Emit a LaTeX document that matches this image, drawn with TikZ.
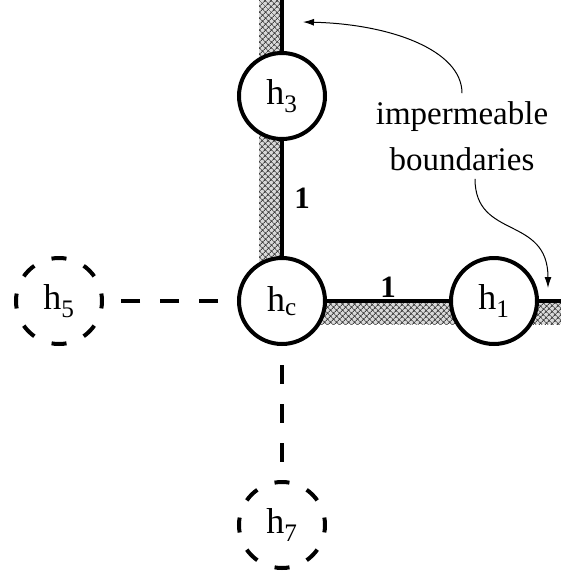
\documentclass[tikz,border=0pt]{standalone}
\usepackage{fontspec}
\setmainfont{Liberation Serif}
\usetikzlibrary{positioning,backgrounds,patterns.meta,arrows.meta}
\newcommand{\hlab}[1]{h\textsubscript{#1}}

\begin{document}
\begin{tikzpicture}[x=1pt, y=-1pt, font=\fontsize{33}{46}\selectfont]
  \tikzstyle{hnode}=[circle, draw, fill=white, line width=4pt,
                     minimum size=86pt, inner sep=0pt,
                     font=\fontsize{36}{40}\selectfont]
  \tikzstyle{hghost}=[hnode, dash pattern=on 15pt off 18.77pt, dash phase=7.5pt]
  \tikzstyle{wall}=[line width=4.5pt]
  \tikzstyle{hatch}=[preaction={fill=gray!30},
                     pattern={Hatch[angle=45,distance=4pt,line width=0.9pt]},
                     pattern color=black!75]
  \tikzstyle{link}=[line width=3.5pt, dash pattern=on 19pt off 20pt, dash phase=20pt]
  \tikzstyle{note}=[-{Latex[length=11pt,width=7pt]}, line width=1pt]
  \tikzstyle{weight}=[font=\fontsize{31}{33}\selectfont\bfseries, inner sep=0pt]
  \useasboundingbox (0,0) rectangle (561,571);
  % cells
  \node[hnode](hc) at (282,301){\hlab{c}};
  \node[hnode](h3) at (282,96){\hlab{3}};
  \node[hnode](h1) at (494,301){\hlab{1}};
  \node[hghost](h5) at (59,301){\hlab{5}};
  \node[hghost](h7) at (282,525){\hlab{7}};
  \coordinate (top) at (282,0);
  \coordinate (redge) at (561,301);
  % impermeable walls
  \begin{scope}[on background layer]
    \path[hatch] ([xshift=-23pt]h3.center) rectangle (top);
    \path[hatch] ([xshift=-23pt]h3.center) rectangle (hc.center);
    \path[hatch] (hc.center) rectangle ([yshift=-23pt]h1.center);
    \path[hatch] (h1.center) rectangle ([yshift=-23pt]redge);
  \end{scope}
  \draw[wall](top)--(h3);
  \draw[wall](h3)--node[weight,right=10pt]{1}(hc);
  \draw[wall](hc)--node[weight,above=1pt]{1}(h1);
  \draw[wall](h1)--(redge);
  \draw[link](hc)--(h5);
  \draw[link](hc)--(h7);
  % label
  \node[align=center, inner sep=8pt](bnd) at (462,136){impermeable\\boundaries};
  \coordinate (ptop) at (303,22);
  \coordinate (pright) at (548,288);
  \draw[note](bnd.north) .. controls (462,50) and (390,24) .. (ptop);
  \draw[note]([xshift=13pt]bnd.south) .. controls (475,240) and (548,215) .. (pright);
\end{tikzpicture}
\end{document}
